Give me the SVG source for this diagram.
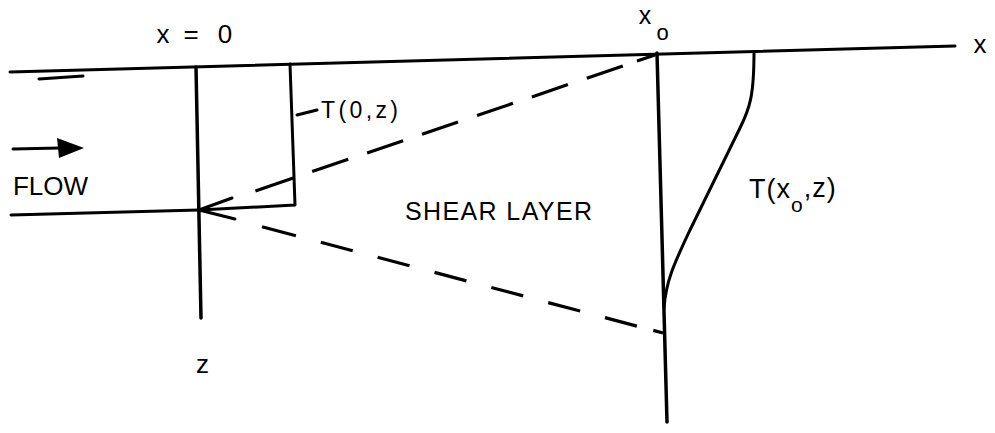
<svg xmlns="http://www.w3.org/2000/svg" width="995" height="433" viewBox="0 0 995 433">
<style>
.ln{stroke:#000;stroke-width:3;fill:none;stroke-linecap:round;stroke-linejoin:round}
.th{stroke-width:3.5}
.ds{stroke:#000;stroke-width:3.2;fill:none;stroke-linecap:butt}
text{font-family:"Liberation Sans",Arial,sans-serif;fill:#000}
</style>
<rect width="995" height="433" fill="#fff"/>
<g id="axes">
  <line class="ln" x1="10" y1="72" x2="955" y2="46"/>
  <line class="ln" x1="39" y1="79" x2="83" y2="76"/>
  <line class="ln th" x1="196" y1="67" x2="201" y2="318"/>
  <line class="ln th" x1="657" y1="53" x2="667" y2="422"/>
  <line class="ln" x1="11" y1="215" x2="199" y2="210"/>
</g>
<g id="inlet-profile">
  <path class="ln" d="M290,64 L295,205 L199,210"/>
  <line class="ln" x1="297" y1="115" x2="317" y2="110"/>
</g>
<g id="outlet-profile">
  <path class="ln" d="M754,52 C754,95 750,108 740,128 L690,230 C675,262 666,280 664,308"/>
</g>
<g id="connectors">
  <path class="ds" d="M655,55 L637,61.1 M622.8,65.9 L586.8,78.2 M567.9,84.6 L531.9,96.9 M513,103.3 L477,115.5 M458,122 L422,134.2 M403.1,140.7 L367.1,152.9 M348.2,159.3 L312.2,171.6 M293.2,178 L255.4,190.9"/>
  <path class="ds" d="M663,333 L653.3,330.4 M636.9,326.1 L605,317.6 M580.1,311 L548.2,302.6 M523.2,295.9 L491.3,287.5 M466.4,280.9 L434.5,272.4 M409.5,265.8 L377.6,257.3 M352.7,250.7 L320.8,242.3 M295.9,235.7 L262,226.7"/>
  <path class="ln" d="M232,198 L199,210 L235,219"/>
  <line class="ln" x1="13" y1="149" x2="60" y2="148" stroke-width="2.5"/>
  <polygon points="57,138 84,148 59,158" fill="#000"/>
</g>
<g id="labels">
  <text x="163" y="43" font-size="26" text-anchor="middle">x</text>
  <text x="191" y="43" font-size="26" text-anchor="middle">=</text>
  <text x="225" y="43" font-size="26" text-anchor="middle">0</text>
  <text x="645" y="24" font-size="25" text-anchor="middle">x</text>
  <text x="662.5" y="40" font-size="22" text-anchor="middle">o</text>
  <text x="980" y="53" font-size="26" text-anchor="middle">x</text>
  <text x="321" y="118" font-size="23" textLength="77" lengthAdjust="spacing">T(0,z)</text>
  <text x="13" y="195" font-size="26" textLength="75" lengthAdjust="spacing">FLOW</text>
  <text x="405" y="220" font-size="25" textLength="187" lengthAdjust="spacing">SHEAR LAYER</text>
  <text x="749" y="198" font-size="27" letter-spacing="1">T(x<tspan dy="14" font-size="21">o</tspan><tspan dy="-15">,z)</tspan></text>
  <text x="202.5" y="373" font-size="26" text-anchor="middle">z</text>
</g>
</svg>
